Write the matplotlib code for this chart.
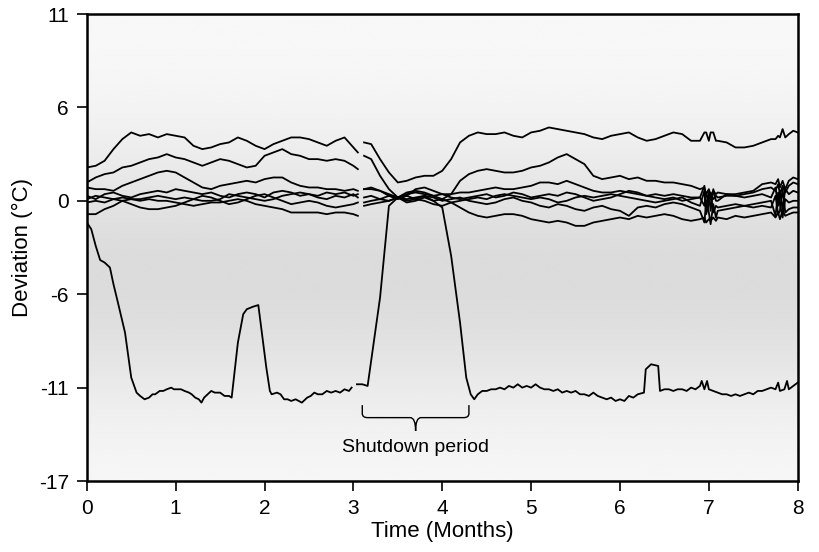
import numpy as np
import matplotlib
matplotlib.use("Agg")
import matplotlib.pyplot as plt
from matplotlib.path import Path
from matplotlib.patches import PathPatch

plt.rcParams['font.family'] = ['Liberation Sans', 'DejaVu Sans']

# ---------------- data ----------------
NAN = np.nan
x_main = [0.0, 0.1, 0.2, 0.3, 0.4, 0.5, 0.6, 0.7, 0.8, 0.9, 1.0, 1.1, 1.2, 1.3, 1.4, 1.5,
          1.6, 1.7, 1.8, 1.9, 2.0, 2.1, 2.2, 2.3, 2.4, 2.5, 2.6, 2.7, 2.8, 2.9, 3.0, 3.05,
          3.08, 3.12, 3.2, 3.3, 3.4, 3.5, 3.6, 3.7, 3.8, 3.9, 4.0, 4.1, 4.2, 4.3, 4.4, 4.5,
          4.6, 4.7, 4.8, 4.9, 5.0, 5.1, 5.2, 5.3, 5.4, 5.5, 5.6, 5.7, 5.8, 5.9, 6.0, 6.1,
          6.2, 6.3, 6.4, 6.5, 6.6, 6.7,
          6.8, 6.9, 6.95, 6.97, 7.0, 7.02, 7.05, 7.08, 7.1, 7.2, 7.3, 7.4, 7.5, 7.6, 7.7,
          7.75, 7.78, 7.8, 7.83, 7.86, 7.9, 7.95, 8.0]

sensor_a = [1.8, 1.9, 2.2, 2.9, 3.5, 3.9, 3.7, 3.8, 3.6, 3.8, 3.7, 3.6, 3.1, 2.9, 3.0, 3.2,
            3.3, 3.6, 3.4, 3.1, 2.9, 3.2, 3.4, 3.6, 3.6, 3.5, 3.3, 3.1, 3.4, 3.6, 3.0, 2.7,
            NAN, 3.3, 3.2, 2.3, 1.5, 0.9, 1.0, 1.2, 1.3, 1.3, 1.6, 2.3, 3.3, 3.7, 3.9, 3.8,
            3.8, 3.9, 3.7, 3.6, 3.9, 4.0, 4.2, 4.1, 4.0, 3.9, 3.8, 3.6, 3.5, 3.7, 3.8, 3.9,
            3.6, 3.4, 3.5, 3.7, 3.9, 3.8,
            3.4, 3.4, 3.9, 3.9, 3.4, 3.9, 3.9, 3.4, 3.4, 3.3, 3.0, 3.0, 3.1, 3.3, 3.5,
            3.5, 3.7, 3.6, 4.1, 3.6, 3.8, 4.0, 3.9]

sensor_b = [0.9, 1.2, 1.4, 1.5, 1.8, 1.9, 2.1, 2.3, 2.4, 2.6, 2.4, 2.3, 2.1, 1.9, 2.1, 2.3,
            2.2, 2.0, 1.8, 1.9, 2.5, 2.7, 2.9, 2.6, 2.5, 2.3, 2.3, 2.2, 2.3, 2.2, 1.9, 1.7,
            NAN, 2.5, 2.3, 1.3, 0.5, 0.0, -0.3, -0.2, 0.0, -0.2, -0.1, 0.2, 1.0, 1.4, 1.6, 1.7,
            1.6, 1.5, 1.5, 1.6, 1.8, 1.9, 2.1, 2.4, 2.6, 2.3, 2.0, 1.3, 1.1, 1.2, 1.3, 1.1,
            1.2, 1.0, 1.0, 0.9, 0.9, 0.8,
            0.7, 0.5, 0.6, 0.2, 0.5, 0.1, 0.4, 0.2, 0.3, 0.2, 0.2, 0.3, 0.4, 0.8, 0.9,
            0.8, 1.1, 0.6, 1.0, 0.5, 1.0, 1.2, 1.1]

sensor_c = [0.6, 0.5, 0.5, 0.4, 0.7, 0.9, 1.1, 1.3, 1.5, 1.6, 1.5, 1.2, 0.9, 0.6, 0.5, 0.7,
            0.8, 0.9, 1.0, 0.9, 1.1, 1.2, 1.2, 0.9, 0.7, 0.6, 0.6, 0.5, 0.5, 0.4, 0.5, 0.4,
            NAN, 0.5, 0.5, 0.4, 0.1, 0.0, 0.3, 0.4, 0.3, 0.1, 0.2, 0.2, 0.3, 0.3, 0.4, 0.5,
            0.6, 0.5, 0.5, 0.6, 0.7, 0.9, 0.9, 0.8, 1.0, 0.8, 0.6, 0.4, 0.3, 0.3, 0.4, 0.3,
            0.2, 0.1, 0.2, 0.1, 0.2, 0.1,
            0.0, 0.0, -0.5, 0.3, -0.3, 0.2, -0.1, 0.1, 0.0, 0.1, 0.1, 0.2, 0.3, 0.5, 0.6,
            0.4, 0.8, 0.2, 0.7, 0.3, 0.7, 0.9, 0.8]

sensor_d = [0.1, -0.1, 0.2, 0.3, 0.1, 0.0, 0.2, 0.3, 0.4, 0.3, 0.5, 0.4, 0.3, 0.2, 0.3, 0.1,
            0.0, 0.2, 0.3, 0.2, 0.0, 0.3, 0.4, 0.3, 0.1, 0.2, 0.0, -0.1, 0.1, 0.0, 0.2, 0.0,
            NAN, -0.3, -0.2, -0.1, 0.1, -0.1, 0.1, 0.5, 0.6, 0.4, 0.2, 0.0, -0.1, 0.0, 0.1, 0.2,
            0.0, 0.1, 0.3, 0.2, 0.0, 0.1, 0.2, 0.1, 0.3, 0.2, 0.0, -0.2, -0.1, 0.0, 0.2, 0.4,
            0.3, 0.1, 0.0, -0.1, 0.0, -0.2,
            -0.1, 0.0, 0.7, -0.6, 0.3, -0.8, 0.5, -0.2, -0.2, 0.2, 0.1, 0.0, 0.1, 0.2, 0.0,
            0.6, -0.5, 0.4, -0.7, 0.5, 0.2, 0.4, 0.3]

sensor_e = [-0.1, 0.1, 0.0, -0.1, -0.2, -0.4, -0.6, -0.7, -0.7, -0.6, -0.5, -0.3, -0.1, 0.1, 0.0, -0.2,
            -0.4, -0.3, -0.1, 0.1, 0.2, 0.0, -0.2, -0.4, -0.3, -0.2, -0.3, -0.5, -0.6, -0.5, -0.4, -0.3,
            NAN, 0.5, 0.6, 0.4, 0.2, 0.0, -0.1, 0.0, 0.1, 0.0, -0.2, -0.1, 0.0, -0.2, -0.3, -0.4,
            -0.3, -0.1, 0.0, -0.2, -0.3, -0.5, -0.6, -0.4, -0.5, -0.7, -0.8, -0.6, -0.5, -0.7, -0.8, -1.1,
            -0.6, -0.5, -0.6, -0.4, -0.3, -0.4,
            -0.6, -0.8, -1.5, -0.2, -0.9, -1.6, -0.4, -1.2, -0.8, -0.7, -0.6, -0.5, -0.4, -0.3, -0.2,
            -1.1, 0.3, -0.4, -1.2, -0.1, -0.3, -0.2, -0.2]

sensor_f = [-1.0, -1.0, -0.7, -0.5, -0.2, -0.1, -0.2, -0.1, -0.2, -0.2, -0.3, -0.4, -0.5, -0.4, -0.3, -0.3,
            -0.2, -0.1, -0.2, -0.4, -0.5, -0.6, -0.7, -0.9, -0.9, -0.9, -0.9, -1.0, -0.9, -0.9, -1.0, -1.1,
            NAN, -0.5, -0.4, -0.3, -0.2, 0.0, 0.2, 0.3, 0.2, 0.1, -0.1, -0.3, -0.6, -0.9, -1.1, -1.2,
            -1.1, -1.0, -1.0, -1.1, -1.3, -1.4, -1.5, -1.4, -1.5, -1.7, -1.7, -1.5, -1.4, -1.3, -1.2, -1.3,
            -1.1, -1.2, -1.1, -1.0, -1.1, -1.3,
            -1.4, -1.3, -1.2, -1.5, -1.3, -1.4, -1.2, -1.4, -1.2, -1.3, -1.1, -1.2, -1.1, -1.0, -0.9,
            -1.2, -0.9, -1.3, -0.8, -1.1, -1.0, -0.9, -0.9]

sensor_g = [-0.3, -0.2, -0.3, -0.1, 0.0, -0.1, -0.1, 0.0, 0.1, 0.0, -0.1, 0.0, -0.1, -0.2, -0.2, -0.1,
            0.2, 0.1, 0.0, -0.1, -0.2, -0.1, 0.1, 0.2, 0.3, 0.2, 0.1, 0.3, 0.2, 0.3, 0.1, 0.2,
            NAN, 0.0, 0.1, -0.1, -0.2, 0.0, 0.1, -0.1, -0.2, -0.4, -0.5, -0.3, -0.2, -0.1, 0.0, -0.1,
            0.1, 0.2, 0.1, 0.0, -0.1, 0.0, -0.1, -0.3, -0.2, 0.0, 0.1, 0.0, 0.1, 0.2, 0.1, 0.0,
            -0.1, -0.2, -0.3, -0.2, -0.1, 0.0,
            -0.3, -0.5, 0.4, -1.0, -0.4, 0.3, -0.9, -0.5, -0.6, -0.5, -0.4, -0.5, -0.6, -0.5, -0.6,
            0.1, -1.0, -0.8, 0.5, -0.9, -0.7, -0.6, -0.6]

# the sensor that was switched off during the shutdown (own time axis)
x_h = [0.0, 0.05, 0.1, 0.15, 0.2, 0.26, 0.3, 0.35, 0.43, 0.5, 0.56, 0.6, 0.65, 0.7, 0.74, 0.77,
       0.82, 0.86, 0.9, 0.95, 0.98, 1.02, 1.06, 1.1, 1.15, 1.18, 1.22, 1.26, 1.29, 1.32, 1.36, 1.4,
       1.44, 1.5, 1.55, 1.6, 1.63, 1.7, 1.76, 1.8, 1.87, 1.93, 2.02, 2.06, 2.08, 2.14, 2.18, 2.22,
       2.26, 2.3, 2.35, 2.42, 2.48, 2.52, 2.56, 2.6, 2.65, 2.7, 2.75, 2.8, 2.85, 2.9, 2.95, 2.98,
       3.01, 3.04, 3.1, 3.16, 3.3, 3.4, 3.5, 3.6, 3.7, 3.8, 3.9, 4.0, 4.1, 4.2, 4.27, 4.32,
       4.36, 4.4, 4.45, 4.5, 4.55, 4.6, 4.65, 4.7, 4.75, 4.8, 4.85, 4.9, 4.95, 5.0, 5.05, 5.1,
       5.15, 5.2, 5.25, 5.3, 5.35, 5.4, 5.45, 5.5, 5.55, 5.6, 5.65, 5.7, 5.75, 5.8, 5.85, 5.9,
       5.95, 6.0, 6.05, 6.1, 6.15, 6.2, 6.27, 6.29, 6.35, 6.43, 6.45, 6.5, 6.55, 6.6, 6.65, 6.7,
       6.75, 6.8, 6.85, 6.9, 6.92, 6.95, 6.98, 7.0, 7.05, 7.1, 7.15, 7.2, 7.25, 7.3, 7.35, 7.4,
       7.45, 7.5, 7.55, 7.6, 7.65, 7.7, 7.75, 7.78, 7.8, 7.85, 7.88, 7.9, 7.95, 8.0]
sensor_h = [-1.5, -1.9, -2.9, -3.75, -3.9, -4.2, -5.2, -6.3, -8.1, -10.8, -11.7, -11.9, -12.1, -12.0, -11.8, -11.8,
            -11.6, -11.6, -11.5, -11.4, -11.5, -11.5, -11.5, -11.6, -11.7, -11.8, -12.0, -12.1, -12.3, -12.0, -11.8, -11.6,
            -11.7, -11.7, -11.9, -11.9, -12.0, -8.7, -7.0, -6.7, -6.55, -6.45, -10.2, -11.6, -11.8, -11.7, -11.8, -12.1,
            -12.1, -12.2, -12.1, -12.3, -12.0, -11.9, -11.7, -11.8, -11.8, -11.6, -11.7, -11.6, -11.7, -11.5, -11.6, -11.4,
            NAN, -11.2, -11.2, -11.3, -6.0, -0.5, 0.0, -0.2, -0.1, 0.1, -0.2, -0.6, -3.5, -7.5, -10.8, -11.8,
            -12.1, -11.8, -11.6, -11.6, -11.5, -11.5, -11.4, -11.5, -11.3, -11.4, -11.2, -11.4, -11.3, -11.4, -11.2, -11.4,
            -11.5, -11.5, -11.6, -11.5, -11.7, -11.6, -11.7, -11.6, -11.8, -11.8, -11.9, -11.7, -11.9, -12.0, -12.1, -12.0,
            -12.2, -12.1, -12.2, -11.9, -12.0, -11.8, -11.7, -10.3, -10.0, -10.1, -11.6, -11.5, -11.5, -11.6, -11.5, -11.5,
            -11.6, -11.4, -11.5, -11.3, -11.0, -11.5, -11.0, -11.5, -11.6, -11.7, -11.8, -11.8, -11.9, -11.8, -11.9, -11.8,
            -11.7, -11.8, -11.6, -11.6, -11.5, -11.4, -11.5, -11.1, -11.6, -11.5, -11.0, -11.5, -11.3, -11.1]

y_ticks_lbl = ["-17", "-11", "-6", "0", "6", "11"]
x_ticks_lbl = ["0", "1", "2", "3", "4", "5", "6", "7", "8"]

# ---------------- figure ----------------
fig = plt.figure(figsize=(8.19, 5.52), dpi=100)
ax = fig.add_axes([0.106, 0.1286, 0.868, 0.846])
ax.set_xlim(0, 8)
ax.set_ylim(-17, 11)

# vertical grey gradient background
t = np.linspace(0, 1, 256)
shade = 0.975 - 0.115 * np.exp(-((t - 0.56) / 0.28) ** 2)
grad = np.repeat(shade[:, None], 2, axis=1)
ax.imshow(grad, cmap='gray', vmin=0, vmax=1, aspect='auto',
          extent=[0, 8, -17, 11], origin='upper', zorder=0, interpolation='bicubic')

lw = 1.3
for ys in [sensor_a, sensor_b, sensor_c, sensor_d, sensor_e, sensor_f, sensor_g]:
    ax.plot(x_main, ys, color='black', lw=lw, zorder=2)
ax.plot(x_h, sensor_h, color='black', lw=lw, zorder=2)

# brace for shutdown period
x0, x1, xm = 3.1, 4.3, 3.7
ytop, ybar, ytip = -12.45, -13.2, -14.0
r = 0.06
verts = [(x0, ytop), (x0, ybar + 0.25), (x0, ybar), (x0 + r, ybar),
         (xm - r, ybar), (xm, ybar), (xm, ytip),
         (xm, ybar), (xm + r, ybar),
         (x1 - r, ybar), (x1, ybar), (x1, ybar + 0.25), (x1, ytop)]
codes = [Path.MOVETO, Path.LINETO, Path.CURVE3, Path.CURVE3,
         Path.LINETO, Path.CURVE3, Path.CURVE3,
         Path.CURVE3, Path.CURVE3,
         Path.LINETO, Path.CURVE3, Path.CURVE3, Path.LINETO]
ax.add_patch(PathPatch(Path(verts, codes), fill=False, lw=1.0, color='black', zorder=3))
ax.text(xm, -15.0, "Shutdown period", ha='center', va='center', fontsize=14)

ax.set_yticks(np.linspace(-17, 11, 6))
ax.set_yticklabels(y_ticks_lbl)
ax.set_xticks(np.arange(0, 9))
ax.set_xticklabels(x_ticks_lbl)
ax.tick_params(direction='out', length=7, width=1.2, labelsize=15, pad=6)
for s in ax.spines.values():
    s.set_linewidth(1.8)
ax.set_xlabel("Time (Months)", fontsize=16, labelpad=2)
ax.set_ylabel("Deviation (°C)", fontsize=16, labelpad=4)

fig.savefig("out.png", dpi=100)
